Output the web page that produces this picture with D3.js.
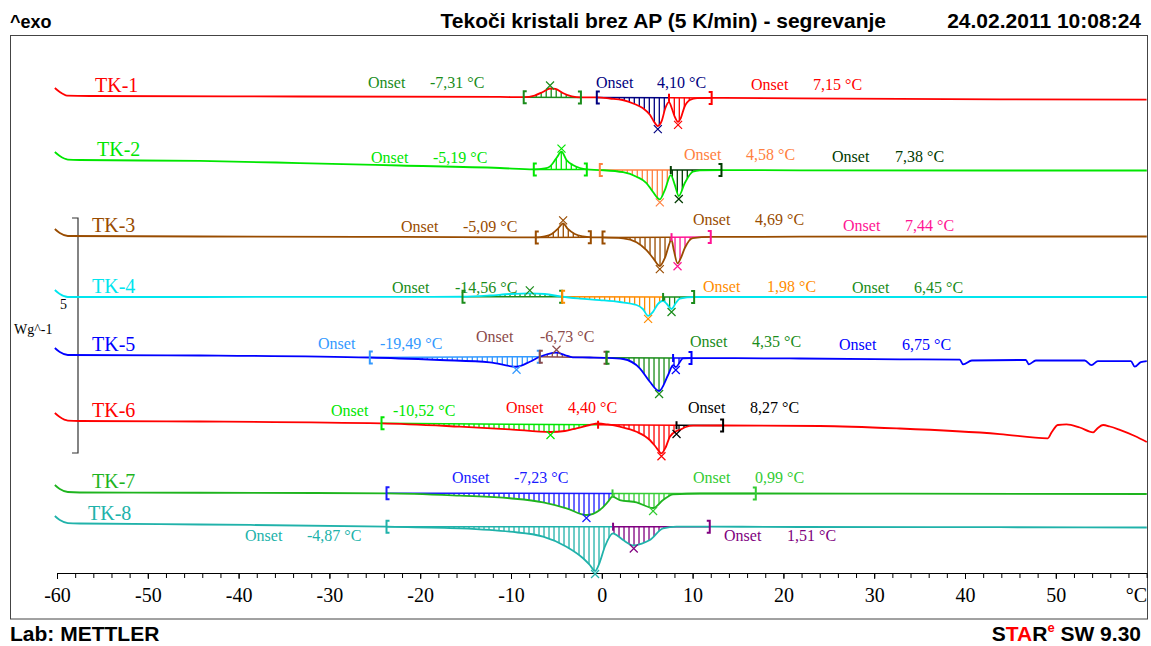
<!DOCTYPE html>
<html><head><meta charset="utf-8">
<script src="https://cdn.jsdelivr.net/npm/d3@7"></script>
<style>body{margin:0;background:#fff} svg{display:block}</style>
</head><body>
<svg id="c" width="1151" height="646"></svg>
<script>
// ---------- DATA ----------
const curveNames = ["TK-1","TK-2","TK-3","TK-4","TK-5","TK-6","TK-7","TK-8"];
// display offset of each curve (W/g)
const curveOffsets = [10.149, 8.787, 7.170, 5.872, 4.638, 3.234, 1.713, 1.053];
// [temperature °C, heat flow W/g relative to offset]
const tk1 = [[-60.24,0.17],[-59.69,0.085],[-58.9,0.01],[-56.4,0],[-33.3,-0.01],[-11.2,-0.02],[-8.6,-0.025],[-7.4,0.01],[-6.5,0.085],[-5.7,0.16],[-5.1,0.15],[-4.3,0.064],[-3.3,-0.01],[-2.3,-0.03],[-0.55,-0.03],[0.9,-0.053],[2.3,-0.085],[3.6,-0.17],[4.5,-0.255],[5.3,-0.40],[5.7,-0.53],[6.17,-0.64],[6.6,-0.53],[7.0,-0.255],[7.4,-0.13],[7.7,-0.255],[8.0,-0.425],[8.4,-0.55],[8.7,-0.47],[9.1,-0.235],[9.7,-0.085],[10.5,-0.043],[12.1,-0.04],[21.8,-0.05],[32.8,-0.06],[43.8,-0.07],[60.0,-0.077]];
const tk2 = [[-60.24,0.17],[-59.69,0.085],[-58.81,0.01],[-57.49,0],[-44.27,-0.02],[-33.26,-0.064],[-22.25,-0.117],[-11.23,-0.17],[-7.49,-0.2],[-6.28,-0.18],[-5.73,-0.14],[-4.99,0.043],[-4.44,0.177],[-3.89,0],[-3.19,-0.106],[-2.42,-0.17],[-1.65,-0.2],[-0.22,-0.213],[2.35,-0.26],[3.82,-0.355],[4.92,-0.49],[5.62,-0.675],[6.39,-0.836],[6.94,-0.64],[7.6,-0.32],[8.04,-0.53],[8.48,-0.766],[9.14,-0.49],[10.02,-0.25],[10.79,-0.22],[13.18,-0.213],[21.81,-0.22],[43.83,-0.223],[60.02,-0.223]];
const tk3 = [[-60.24,0.15],[-59.69,0.064],[-58.81,0],[-44.27,-0.01],[-22.25,-0.02],[-7.27,-0.03],[-6.28,-0.01],[-5.51,0.043],[-4.85,0.15],[-4.26,0.27],[-3.74,0.15],[-2.97,0.043],[-2.09,-0.01],[-1.21,-0.028],[0.08,-0.03],[2.35,-0.05],[3.82,-0.134],[4.92,-0.3],[5.65,-0.47],[6.39,-0.64],[6.94,-0.47],[7.68,-0.085],[7.93,-0.3],[8.34,-0.58],[8.7,-0.47],[9.14,-0.255],[10.02,-0.043],[12.0,-0.02],[21.81,-0.015],[43.83,-0.01],[60.02,-0.01]];
const tk4 = [[-60.24,0.15],[-59.69,0.064],[-58.81,0],[-44.27,0],[-22.25,0.004],[-15.34,0.006],[-12.33,0.032],[-10.13,0.064],[-7.93,0.079],[-6.28,0.064],[-4.37,0.006],[-2.42,-0.032],[-0.22,-0.064],[1.98,-0.106],[3.82,-0.17],[4.52,-0.255],[5.1,-0.40],[5.62,-0.32],[6.17,-0.15],[6.75,-0.079],[7.16,-0.149],[7.68,-0.255],[8.15,-0.128],[8.59,-0.032],[10.17,0],[21.81,0],[60.02,0]];
const tk5 = [[-60.24,0.15],[-59.69,0.064],[-58.81,0],[-44.27,-0.01],[-25.55,-0.053],[-17.84,-0.106],[-12.33,-0.155],[-9.39,-0.25],[-7.93,-0.143],[-6.83,-0.036],[-5.95,0.021],[-4.99,0.049],[-4.07,0],[-3.19,-0.049],[-1.32,-0.053],[0.52,-0.06],[2.35,-0.085],[4.19,-0.283],[5.29,-0.568],[6.31,-0.766],[7.30,-0.426],[7.85,-0.213],[8.15,-0.255],[8.95,-0.07],[9.88,-0.064],[21.81,-0.074],[32.82,-0.091],[39.43,-0.10],[39.79,-0.198],[40.75,-0.117],[46.7,-0.106],[47.03,-0.198],[47.8,-0.117],[53.19,-0.117],[53.93,-0.213],[54.63,-0.128],[58.26,-0.128],[58.7,-0.249],[59.36,-0.149],[60.02,-0.128]];
const tk6 = [[-60.24,0.17],[-59.69,0.085],[-58.81,0.01],[-57.49,0],[-44.27,-0.01],[-24.26,-0.05],[-15.64,-0.12],[-10.13,-0.177],[-5.65,-0.234],[-4.07,-0.213],[-2.79,-0.155],[-1.32,-0.085],[-0.41,-0.053],[0.66,-0.074],[1.98,-0.12],[3.82,-0.228],[5.29,-0.404],[5.95,-0.553],[6.57,-0.687],[7.05,-0.553],[7.49,-0.334],[8.23,-0.213],[8.59,-0.19],[9.25,-0.128],[10.06,-0.1],[13.36,-0.096],[24.01,-0.106],[32.82,-0.16],[43.83,-0.277],[49.12,-0.368],[49.56,-0.234],[50.22,-0.085],[51.18,-0.07],[52.64,-0.138],[54.11,-0.24],[54.63,-0.149],[55.21,-0.085],[55.95,-0.117],[57.05,-0.19],[58.7,-0.32],[60.02,-0.447]];
const tk7 = [[-60.24,0.16],[-59.69,0.074],[-58.81,0.01],[-57.49,0],[-44.27,-0.006],[-23.71,-0.017],[-15.64,-0.068],[-10.13,-0.123],[-6.46,-0.209],[-3.89,-0.336],[-1.69,-0.479],[-0.22,-0.372],[0.66,-0.202],[1.18,-0.089],[1.98,-0.16],[3.82,-0.209],[5.65,-0.33],[6.75,-0.16],[7.85,-0.038],[10.79,-0.021],[16.96,-0.021],[32.82,-0.026],[60.02,-0.032]];
const tk8 = [[-60.24,0.16],[-59.69,0.074],[-58.81,0.01],[-57.49,0],[-44.27,-0.021],[-23.71,-0.068],[-15.64,-0.102],[-10.13,-0.174],[-6.46,-0.28],[-3.89,-0.494],[-2.06,-0.74],[-1.32,-0.883],[-0.74,-1.01],[-0.22,-0.82],[0.33,-0.494],[1.24,-0.209],[1.76,-0.266],[2.35,-0.351],[3.52,-0.468],[4.41,-0.426],[5.29,-0.351],[6.75,-0.102],[8.23,-0.068],[11.89,-0.068],[21.81,-0.074],[43.83,-0.079],[60.02,-0.085]];
const curveData = [tk1, tk2, tk3, tk4, tk5, tk6, tk7, tk8];

// integration ranges: [curve index, limits (°C)]
const integrationLimits = [
  [0, [-8.6, -2.3]],
  [0, [-0.55, 7.4, 12.1]],
  [1, [-7.49, -1.65]],
  [1, [-0.22, 7.6, 13.18]],
  [2, [-7.27, -1.21]],
  [2, [0.08, 7.68, 12.0]],
  [3, [-15.34, -4.37]],
  [3, [-4.37, 6.75, 10.17]],
  [4, [-25.55, -6.83]],
  [4, [-6.83, 0.52]],
  [4, [0.52, 7.85, 9.88]],
  [5, [-24.26, -0.41, 8.23, 13.36]],
  [6, [-23.71, 1.18, 16.96]],
  [7, [-23.71, 1.24, 11.89]]
];

// onset annotations: [curve index, value text]
const onsetValues = [
  [0,"-7,31 °C"],[0,"4,10 °C"],[0,"7,15 °C"],
  [1,"-5,19 °C"],[1,"4,58 °C"],[1,"7,38 °C"],
  [2,"-5,09 °C"],[2,"4,69 °C"],[2,"7,44 °C"],
  [3,"-14,56 °C"],[3,"1,98 °C"],[3,"6,45 °C"],
  [4,"-19,49 °C"],[4,"-6,73 °C"],[4,"4,35 °C"],[4,"6,75 °C"],
  [5,"-10,52 °C"],[5,"4,40 °C"],[5,"8,27 °C"],
  [6,"-7,23 °C"],[6,"0,99 °C"],
  [7,"-4,87 °C"],[7,"1,51 °C"]
];

const xTickLabels = [-60,-50,-40,-30,-20,-10,0,10,20,30,40,50];
const scaleBarValue = 5;       // W/g
const scaleBarBottom = 2.553;  // W/g position of the bar's lower end

// ---------- STYLES / LAYOUT ----------
const C = {
  red:"#ff0000", lime:"#00e600", brown:"#994c00", cyan:"#00e5ee", blue:"#0000ff",
  green7:"#1eb41e", teal:"#20b2aa", dgreen:"#1a8c1a", navy:"#000080", orange:"#ff8040",
  dkgreen:"#003a00", pink:"#ff1493", orange4:"#ff8c00", lblue:"#3399ff", rbrown:"#8b4a4a",
  black:"#000000", purple:"#800080", blue7:"#1a1aff", green7b:"#33cc33"
};
const curveColors = [C.red, C.lime, C.brown, C.cyan, C.blue, C.red, C.green7, C.teal];
const integrationColors = [
  [C.dgreen],[C.navy, C.red],
  [C.lime],[C.orange, C.dkgreen],
  [C.brown],[C.brown, C.pink],
  [C.dgreen],[C.orange4, C.dgreen],
  [C.lblue],[C.rbrown],[C.dgreen, C.blue],
  [C.lime, C.red, C.black],
  [C.blue7, C.green7b],
  [C.teal, C.purple]
];
const onsetColors = [
  C.dgreen, C.navy, C.red,
  C.lime, C.orange, C.dkgreen,
  C.brown, C.brown, C.pink,
  C.dgreen, C.orange4, C.dgreen,
  C.lblue, C.rbrown, C.dgreen, C.blue,
  C.lime, C.red, C.black,
  C.blue7, C.green7b,
  C.teal, C.purple
];
// [x of "Onset", x of value, text baseline] in px
const onsetLayout = [
  [368,430,88],[596,657,88],[751,813,90],
  [371,433,163],[684,746,160],[832,895,162],
  [401,463,232],[693,755,225],[843,905,231],
  [392,455,293],[703,767,292],[852,914,293],
  [318,380,349],[476,540,342],[690,752,347],[839,902,350],
  [331,393,416],[506,568,413],[688,750,413],
  [452,514,483],[693,755,483],
  [245,307,541],[724,787,541]
];
const nameLabelX = [95,97,92,92,92,92,92,88];

// ---------- DRAW ----------
const svg = d3.select("#c");
const x = d3.scaleLinear().domain([-60, 60]).range([57, 1146.6]);
const y = d3.scaleLinear().domain([0, 11.447]).range([573, 35]);
const SERIF = "'Liberation Serif','Times New Roman',serif";
const SANS = "'Liberation Sans',Arial,sans-serif";

svg.append("rect").attr("x",10.5).attr("y",35.5).attr("width",1137).attr("height",583.5)
  .attr("fill","none").attr("stroke","#444").attr("stroke-width",1);

// header / footer
svg.append("text").attr("x",10).attr("y",28).attr("font-family",SANS).attr("font-weight","bold")
  .attr("font-size",18).text("^exo");
svg.append("text").attr("x",886).attr("y",28).attr("text-anchor","end").attr("font-family",SANS)
  .attr("font-weight","bold").attr("font-size",21).text("Tekoči kristali brez AP (5 K/min) - segrevanje");
svg.append("text").attr("x",1141).attr("y",28).attr("text-anchor","end").attr("font-family",SANS)
  .attr("font-weight","bold").attr("font-size",21).text("24.02.2011 10:08:24");
svg.append("text").attr("x",10).attr("y",641).attr("font-family",SANS).attr("font-weight","bold")
  .attr("font-size",21).text("Lab: METTLER");
const star = svg.append("text").attr("x",1141).attr("y",641).attr("text-anchor","end")
  .attr("font-family",SANS).attr("font-weight","bold").attr("font-size",21);
star.append("tspan").text("S");
star.append("tspan").attr("fill","#ff0000").text("TA");
star.append("tspan").text("R");
star.append("tspan").attr("fill","#ff0000").attr("font-size",13).attr("dy",-9).text("e");
star.append("tspan").attr("dy",9).text(" SW 9.30");

// x axis
const axisG = svg.append("g").attr("transform","translate(0,573)");
axisG.call(d3.axisBottom(x).tickValues(d3.range(-60, 60.1, 2)).tickSize(5).tickSizeOuter(0).tickFormat(""));
axisG.append("g").call(d3.axisBottom(x).tickValues(xTickLabels).tickSize(6).tickPadding(9).tickFormat(d=>d))
  .call(g=>g.select(".domain").remove());
axisG.selectAll("text").attr("font-family",SERIF).attr("font-size",20).attr("fill","#000");
axisG.selectAll("line,path").attr("stroke","#000");
svg.append("text").attr("x",1147).attr("y",602).attr("text-anchor","end").attr("font-family",SERIF)
  .attr("font-size",20).text("°C");

// scale bar
const yb0 = y(scaleBarBottom), yb1 = y(scaleBarBottom + scaleBarValue);
svg.append("path").attr("d",`M72,${yb1}H78V${yb0}H72`).attr("fill","none").attr("stroke","#333").attr("stroke-width",1.2);
svg.append("text").attr("x",60).attr("y",(yb0+yb1)/2-27).attr("font-family",SERIF).attr("font-size",14).text(String(scaleBarValue));
svg.append("text").attr("x",14).attr("y",(yb0+yb1)/2-2).attr("font-family",SERIF).attr("font-size",14).text("Wg^-1");

function interp(data, t){
  for (let i=1;i<data.length;i++){
    if (t <= data[i][0]){
      const a=data[i-1], b=data[i];
      return a[1] + (b[1]-a[1])*(t-a[0])/(b[0]-a[0]);
    }
  }
  return data[data.length-1][1];
}

const line = d3.line().x(d=>x(d[0])).curve(d3.curveMonotoneX);
const defs = svg.append("defs");
const intG = svg.append("g");
const curveG = svg.append("g");
const markG = svg.append("g");

integrationLimits.forEach(([ci, lims], k) => {
  const data = curveData[ci], off = curveOffsets[ci], cols = integrationColors[k];
  const t1 = lims[0], tN = lims[lims.length-1];
  const v1 = interp(data,t1), vN = interp(data,tN);
  const base = t => v1 + (vN-v1)*(t-t1)/(tN-t1);
  const pts = [[t1,v1]].concat(data.filter(d=>d[0]>t1 && d[0]<tN)).concat([[tN,vN]]);
  const area = d3.area().x(d=>x(d[0])).y0(d=>y(off+base(d[0]))).y1(d=>y(off+d[1])).curve(d3.curveMonotoneX);
  const id = "clip"+k;
  defs.append("clipPath").attr("id",id).append("path").attr("d",area(pts));
  const hg = intG.append("g").attr("clip-path",`url(#${id})`);
  const xs = d3.range(x(t1)+2.5, x(tN), 5);
  xs.forEach(px=>{
    const t = x.invert(px);
    let s = 0; while (s < lims.length-2 && t > lims[s+1]) s++;
    const yb = y(off+base(t));
    hg.append("line").attr("x1",px).attr("x2",px).attr("y1",yb-80).attr("y2",yb+80)
      .attr("stroke",cols[s]).attr("stroke-width",1.3);
  });
  // baselines per segment
  for (let s=0;s<lims.length-1;s++){
    intG.append("line").attr("x1",x(lims[s])).attr("x2",x(lims[s+1]))
      .attr("y1",y(off+base(lims[s]))).attr("y2",y(off+base(lims[s+1])))
      .attr("stroke",cols[s]).attr("stroke-width",1.5);
    // peak marker
    const seg = data.filter(d=>d[0]>=lims[s] && d[0]<=lims[s+1]);
    if (seg.length){
      const pk = seg.reduce((a,b)=> Math.abs(b[1]-base(b[0])) > Math.abs(a[1]-base(a[0])) ? b : a);
      const px = x(pk[0]), py = y(off+pk[1]) + (pk[1] < base(pk[0]) ? 3 : -3);
      markG.append("path").attr("d",`M${px-4},${py-4}L${px+4},${py+4}M${px-4},${py+4}L${px+4},${py-4}`)
        .attr("stroke",cols[s]).attr("stroke-width",1.2).attr("fill","none");
    }
  }
  // limit brackets
  const bx1 = x(t1), by1 = y(off+v1), bxN = x(tN), byN = y(off+vN);
  markG.append("path").attr("d",`M${bx1+3},${by1-6}H${bx1}V${by1+6}H${bx1+3}`)
    .attr("fill","none").attr("stroke",cols[0]).attr("stroke-width",2);
  markG.append("path").attr("d",`M${bxN-3},${byN-6}H${bxN}V${byN+6}H${bxN-3}`)
    .attr("fill","none").attr("stroke",cols[cols.length-1]).attr("stroke-width",2);
  for (let s=1;s<lims.length-1;s++){
    const sx = x(lims[s]), sy = y(off+base(lims[s]));
    markG.append("path").attr("d",`M${sx},${sy-4}V${sy+4}`).attr("stroke",cols[s]).attr("stroke-width",2);
  }
});

curveData.forEach((data, i) => {
  const off = curveOffsets[i];
  curveG.append("path").attr("d", line.y(d=>y(off+d[1]))(data))
    .attr("fill","none").attr("stroke",curveColors[i]).attr("stroke-width",1.8);
  svg.append("text").attr("x",nameLabelX[i]).attr("y",y(off)-4).attr("font-family",SERIF)
    .attr("font-size",20).attr("fill",curveColors[i]).text(curveNames[i]);
});

// onset annotations
onsetValues.forEach(([ci, val], k) => {
  const [xo, xv, yb] = onsetLayout[k];
  const g = svg.append("g").attr("font-family",SERIF).attr("font-size",16).attr("fill",onsetColors[k]);
  g.append("text").attr("x",xo).attr("y",yb).text("Onset");
  g.append("text").attr("x",xv).attr("y",yb).text(val);
});
</script>
</body></html>
